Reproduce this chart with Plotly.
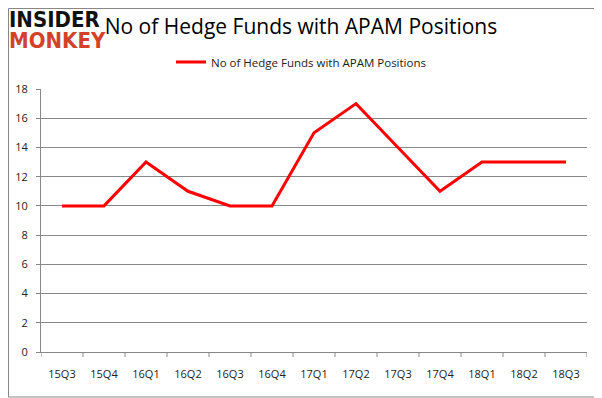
import plotly.graph_objects as go

quarters = ["15Q3","15Q4","16Q1","16Q2","16Q3","16Q4","17Q1","17Q2","17Q3","17Q4","18Q1","18Q2","18Q3"]
funds = [10,10,13,11,10,10,15,17,14,11,13,13,13]
series_name = "No of Hedge Funds with APAM Positions"
y_ticks = [0,2,4,6,8,10,12,14,16,18]

# page body has an 8px margin; figure is sized/offset to compensate
OFF = 8
W, H = 602 - OFF, 398 - OFF
L, T, PW, PH = 41 - OFF, 89 - OFF, 546, 263
R, B = W - L - PW, H - T - PH

def px_x(px):  # page x -> paper fraction
    return (px - OFF - L) / PW

def px_y(py):  # page y -> paper fraction
    return 1 - (py - OFF - T) / PH

fig = go.Figure()
fig.add_trace(go.Scatter(x=list(range(len(quarters))), y=funds, mode="lines",
                         name=series_name, line=dict(color="#ff0000", width=3)))

fig.update_layout(
    width=W, height=H,
    margin=dict(l=L, r=R, t=T, b=B, autoexpand=False),
    paper_bgcolor="white", plot_bgcolor="white",
    font=dict(family="Open Sans, Liberation Sans, sans-serif", color="#222", size=11),
    title=dict(text="No of Hedge Funds with APAM Positions", x=px_x(301), xref="paper",
               xanchor="center", y=1 - (27 - OFF) / H, yref="container", yanchor="middle",
               font=dict(size=21, color="black")),
    showlegend=True,
    legend=dict(orientation="h", x=px_x(301), xanchor="center", y=px_y(62), yref="paper",
                yanchor="middle", font=dict(size=11.5, color="#222"), bgcolor="rgba(0,0,0,0)"),
    xaxis=dict(range=[-0.5, len(quarters)-0.5], tickmode="array",
               tickvals=list(range(len(quarters))), ticktext=quarters,
               showgrid=False, showline=True, linecolor="#888", linewidth=1,
               ticks="", zeroline=False, fixedrange=True, ticklabelstandoff=12),
    yaxis=dict(range=[0, 18], tickmode="array", tickvals=y_ticks,
               showgrid=True, gridcolor="#888", gridwidth=1, showline=True,
               linecolor="#888", ticks="outside", ticklen=4, tickcolor="#888",
               zeroline=False, fixedrange=True, ticklabelstandoff=6),
)
# x-axis boundary tick marks
for i in range(len(quarters)+1):
    fig.add_shape(type="line", xref="x", yref="paper", x0=i-0.5, x1=i-0.5, y0=0, y1=-5/PH,
                  line=dict(color="#888", width=1))
# outer border
fig.add_shape(type="rect", xref="paper", yref="paper", x0=px_x(8.5), x1=px_x(601),
              y0=px_y(397), y1=px_y(8.5), line=dict(color="#888", width=1))
# logo: one text block, tight line spacing from a small base size, big glyphs via spans
logo_text = ("<span style='font-size:22px;color:#111'><b>INSIDER</b></span><br>"
             "<span style='font-size:22px;color:#d4412a'><b>MONKEY</b></span>")
fig.add_annotation(text=logo_text, xref="paper", yref="paper", x=px_x(8), xanchor="left",
                   align="left", y=px_y(30), yanchor="middle", showarrow=False, borderpad=0,
                   font=dict(family="DejaVu Sans Condensed, DejaVu Sans, sans-serif", size=16, color="#111"))
fig.write_html("out.html")
